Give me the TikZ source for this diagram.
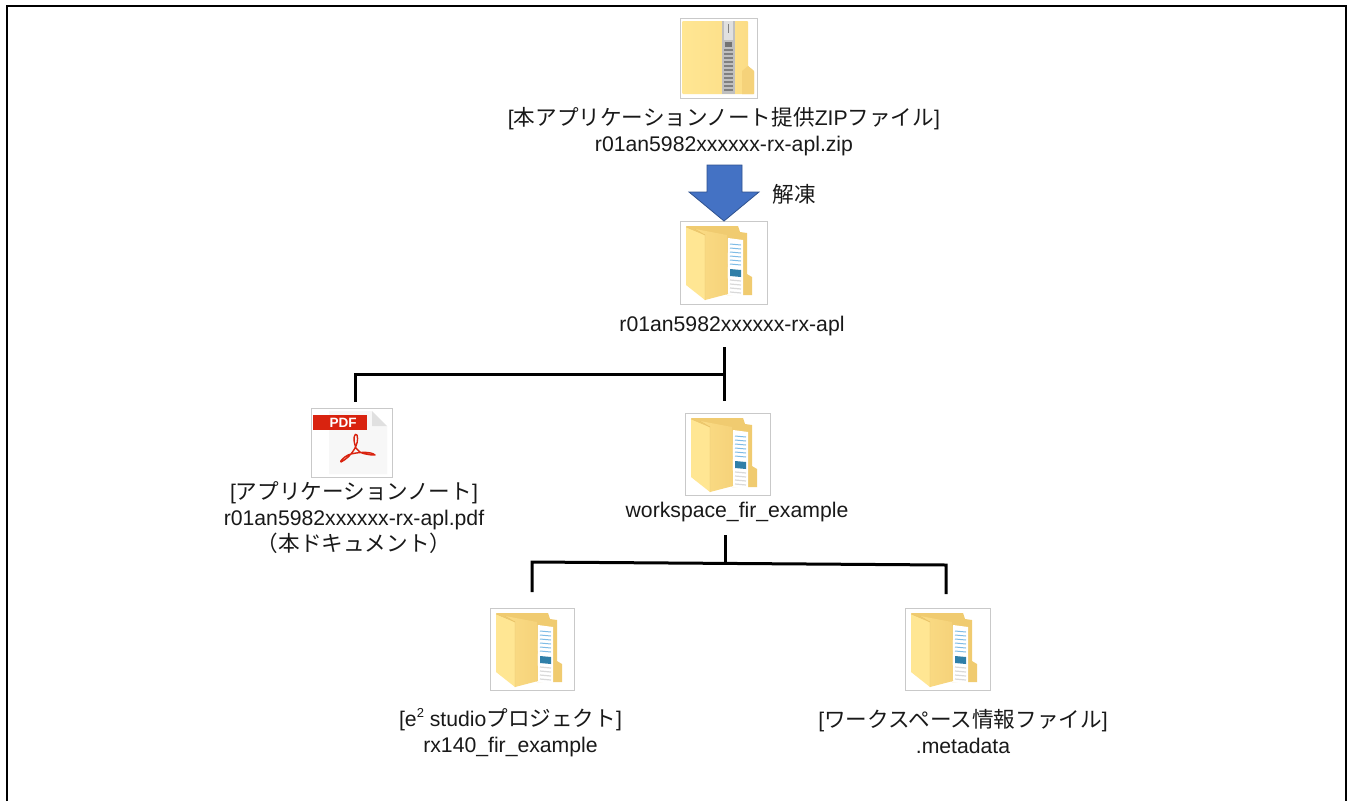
\documentclass[tikz,border=0pt]{standalone}
\usepackage{fontspec}
\setmainfont{Liberation Sans}
\newfontfamily\cjk{Noto Sans CJK JP}
\newcommand{\J}[1]{\vphantom{Ag}\smash{\cjk\fontsize{21.6}{26}\selectfont #1}}
\definecolor{fback}{HTML}{F0CB70}
\definecolor{ffront}{HTML}{FFE693}
\definecolor{fmid}{HTML}{FBDC85}
\definecolor{fmidr}{HTML}{F5D27A}
\definecolor{fedge}{HTML}{E8C266}
\definecolor{framegray}{HTML}{C9C9C9}
\definecolor{pdfred}{HTML}{D9230F}
\definecolor{arrowfill}{HTML}{4472C4}
\definecolor{arrowedge}{HTML}{2F528F}
\definecolor{paperblue}{HTML}{7FBCE6}
\definecolor{picblue}{HTML}{2F7FA8}
\tikzset{
  x=1pt,y=-1pt,
  iconbox/.style={draw=framegray,line width=0.8pt,fill=white,inner sep=0pt,outer sep=0pt,minimum height=83pt},
  lbl/.style={font=\fontsize{21.2}{26}\selectfont,align=center,inner sep=0pt,outer sep=0pt,text=black!90},
  treeline/.style={draw=black,line width=3pt,line join=miter},
  blockarrow/.style={draw=arrowedge,fill=arrowfill,line width=0.8pt},
  pics/foldericon/.style={code={
    \fill[fback] (6,5) -- (58,5) -- (60,11) -- (67,12) -- (67,53) -- (72,56) -- (72,74) -- (47,74) -- cycle;
    \fill[white] (48,17) -- (63,19) -- (63,76) -- (47,74) -- cycle;
    \foreach \yy in {23,27,31,35,39,43}{\draw[paperblue,line width=1pt] (50,\yy) -- (61,\yy+1);}
    \fill[picblue] (50,48) -- (61,49) -- (61,56) -- (50,55) -- cycle;
    \foreach \yy in {59,63,67,71}{\draw[black!15,line width=1.2pt] (50,\yy) -- (61,\yy+1);}
    \shade[left color=fmid,right color=fmidr] (15,8) -- (47,14) -- (48,73) -- (25,79) -- (25,14) -- cycle;
    \fill[ffront] (6,6) -- (25,14) -- (25,79) -- (6,64) -- cycle;
    \draw[fedge,line width=0.4pt] (6,6) -- (25,14) -- (25,79);
    \draw[fedge,line width=0.4pt] (25,14) -- (15,8);
  }},
  pics/zipicon/.style={code={
    \shade[left color=ffront,right color=fmid,rounded corners=1pt] (2,3) -- (68,3) -- (68,48) -- (74,53) -- (74,76) -- (2,76) -- cycle;
    \fill[fmidr] (62,53) -- (68,48) -- (74,53) -- (74,76) -- (62,76) -- cycle;
    \fill[black!25] (42,3) -- (55,3) -- (55,76) -- (42,76) -- cycle;
    \fill[black!12] (44,3) -- (53,3) -- (53,22) -- (44,22) -- cycle;
    \draw[black!50,line width=1pt] (48,6) -- (48,15);
    \fill[black!55] (45,24) -- (52,24) -- (52,29) -- (45,29) -- cycle;
    \foreach \yy in {32,36,...,72}{\draw[black!50,line width=1.6pt] (44,\yy) -- (53,\yy);}
  }},
  pics/pdficon/.style={code={
    \fill[black!3] (18,3) -- (61,3) -- (76,18) -- (76,66) -- (18,66) -- cycle;
    \fill[black!12] (61,3) -- (76,18) -- (61,18) -- cycle;
    \fill[pdfred] (2,7) -- (56,7) -- (56,22) -- (2,22) -- cycle;
    \node[text=white,font=\bfseries\fontsize{13.5}{14}\selectfont,inner sep=0pt] (pdftxt) at (32,14.5) {PDF};
    \draw[pdfred,line width=1.4pt,line cap=round,line join=round]
      (30,54) .. controls (40,49) and (49,36) .. (46,27)
      .. controls (44,24) and (41,30) .. (45,40)
      .. controls (48,46) and (58,47) .. (64,47)
      .. controls (60,43) and (45,44) .. (37,47)
      .. controls (33,49) and (28,54) .. (30,54);
  }}
}
\begin{document}
\begin{tikzpicture}
\useasboundingbox (0,0) rectangle (1351,801);
\fill[white] (0,0) rectangle (1351,801);
\draw[black,line width=2pt] (6.5,801) -- (6.5,6) -- (1345.5,6) -- (1345.5,801);

% icons
\node[iconbox,minimum width=77pt,minimum height=80pt] (zipbox) at (718.5,58) {};
\pic at (zipbox.north west) {zipicon};
\node[iconbox,minimum width=87pt] (aplbox) at (723.5,262.5) {};
\pic at (aplbox.north west) {foldericon};
\node[iconbox,minimum width=81pt,minimum height=69pt] (pdfbox) at (351.5,442.5) {};
\pic at (pdfbox.north west) {pdficon};
\node[iconbox,minimum width=85pt,minimum height=82pt] (wsbox) at (727.5,454) {};
\pic at (wsbox.north west) {foldericon};
\node[iconbox,minimum width=84pt,minimum height=82pt] (e2box) at (532,649) {};
\pic at (e2box.north west) {foldericon};
\node[iconbox,minimum width=85pt,minimum height=82pt] (metabox) at (947.5,649) {};
\pic at (metabox.north west) {foldericon};

% labels
\node[lbl] (ziplbl) at (724,133.5) {[\J{本アプリケーションノート提供}ZIP\J{ファイル}]\\r01an5982xxxxxx-rx-apl.zip};
\node[lbl] (thaw) at (794,197) {\J{解凍}};
\node[lbl] (apllbl) at (732,326) {r01an5982xxxxxx-rx-apl};
\node[lbl] (pdflbl) at (354,520.5) {[\J{アプリケーションノート}]\\r01an5982xxxxxx-rx-apl.pdf\\\J{（本ドキュメント）}};
\node[lbl] (wslbl) at (737,512) {workspace\_fir\_example};
\node[lbl] (e2lbl) at (510.5,733) {[e\raisebox{0.42em}{\fontsize{13}{13}\selectfont 2} studio\J{プロジェクト}]\\rx140\_fir\_example};
\node[lbl] (metalbl) at (963,733) {[\J{ワークスペース情報ファイル}]\\.metadata};

% extraction arrow
\draw[blockarrow] (707,165) -- (742,165) -- (742,192) -- (759,192) -- (724,221) -- (689,192) -- (707,192) -- cycle;

% tree connectors
\coordinate (j1) at (724,374);
\coordinate (j1top) at (724,347);
\coordinate (j1end) at (724,401);
\coordinate (j1pdf) at (355,374);
\coordinate (j1pdfend) at (355,402);
\draw[treeline] (j1top) -- (j1end);
\draw[treeline] (j1) -- (j1pdf) -- (j1pdfend);
\coordinate (j2top) at (725,535);
\coordinate (j2) at (725,562.5);
\coordinate (j2l) at (532,562);
\coordinate (j2lend) at (532,592);
\coordinate (j2r) at (946,565);
\coordinate (j2rend) at (946,594);
\draw[treeline] (j2top) -- (j2);
\draw[treeline] (j2lend) -- (j2l) -- (j2r) -- (j2rend);
\end{tikzpicture}
\end{document}
